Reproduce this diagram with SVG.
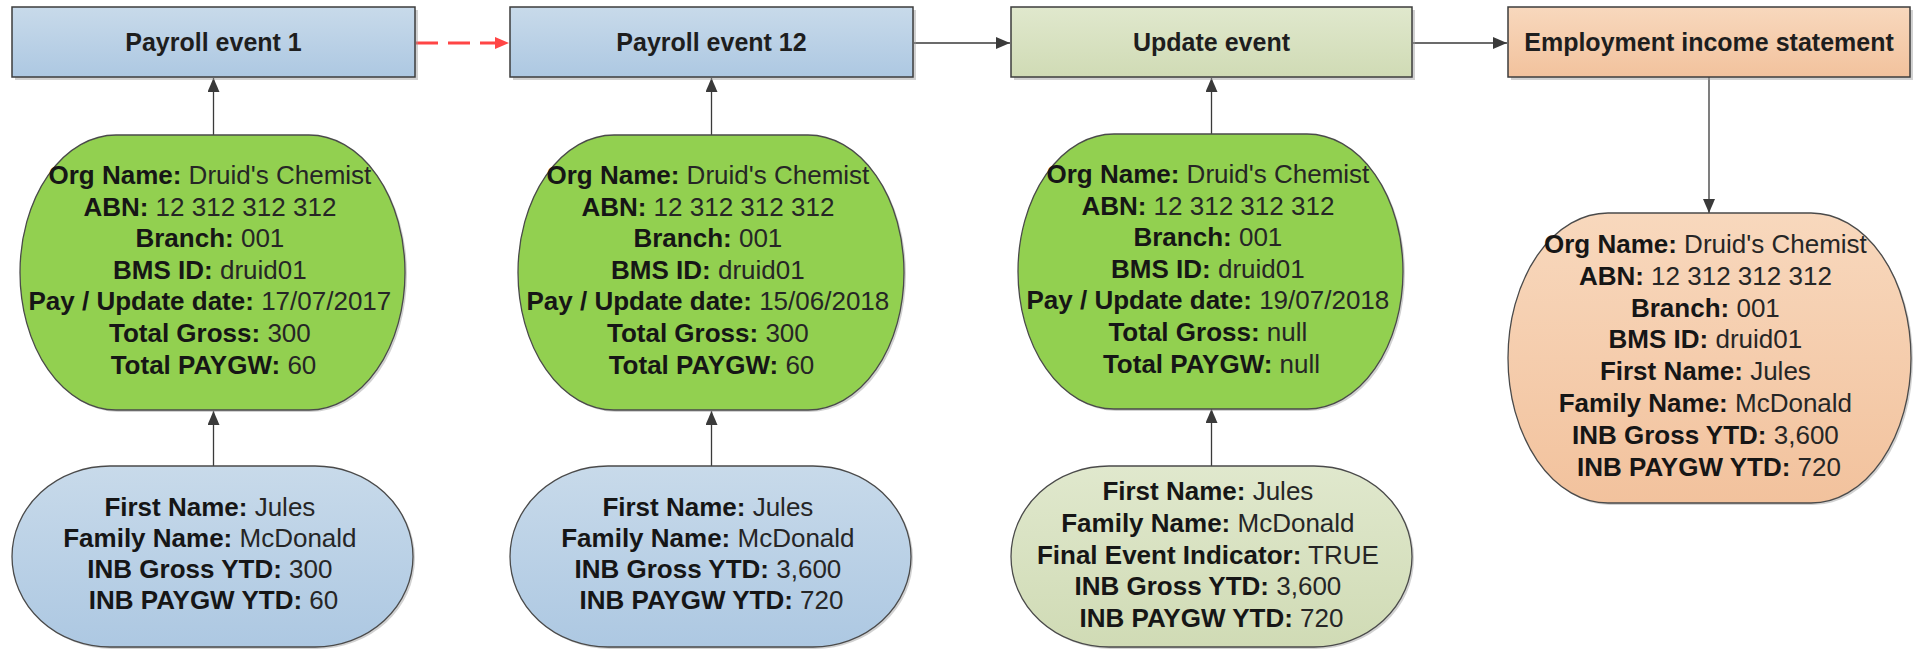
<svg xmlns="http://www.w3.org/2000/svg" width="1914" height="649" viewBox="0 0 1914 649">
  <style>
    .box { stroke: #3c3c3c; stroke-width: 1.5; }
    .shape { stroke: #4a4a4a; stroke-width: 1.3; }
    .shadow { fill: #9a9a9a; opacity: 0.45; }
    .title { font-family: "Liberation Sans", Arial, sans-serif; font-size: 25px; font-weight: bold; fill: #1e1e1e; text-anchor: middle; }
    .body { font-family: "Liberation Sans", Arial, sans-serif; font-size: 26px; fill: #262626; text-anchor: middle; }
    .body .k { font-weight: bold; fill: #161616; }
    .link { fill: none; stroke: #3a3a3a; stroke-width: 1.3; }
    .link-dash { fill: none; stroke: #ff4545; stroke-width: 3; stroke-dasharray: 22 10; }
  </style>
  <defs>
    <linearGradient id="gBlue" x1="0" y1="0" x2="0" y2="1">
      <stop offset="0" stop-color="#c8daea"/>
      <stop offset="1" stop-color="#adc8e2"/>
    </linearGradient>
    <linearGradient id="gKhaki" x1="0" y1="0" x2="0" y2="1">
      <stop offset="0" stop-color="#e0e8cd"/>
      <stop offset="1" stop-color="#d0dbb5"/>
    </linearGradient>
    <linearGradient id="gPeach" x1="0" y1="0" x2="0" y2="1">
      <stop offset="0" stop-color="#f8d8bd"/>
      <stop offset="1" stop-color="#f2c29d"/>
    </linearGradient>
    <marker id="arrow" viewBox="0 0 14 12" refX="14" refY="6" markerWidth="14" markerHeight="12" markerUnits="userSpaceOnUse" orient="auto">
      <path d="M0,0 L14,6 L0,12 Z" fill="#3a3a3a"/>
    </marker>
    <marker id="arrowRed" viewBox="0 0 14 12" refX="14" refY="6" markerWidth="14" markerHeight="12" markerUnits="userSpaceOnUse" orient="auto">
      <path d="M0,0 L14,6 L0,12 Z" fill="#ff4545"/>
    </marker>
  </defs>

  <!-- connectors -->
  <g id="connectors">
    <line class="link-dash" x1="416" y1="43" x2="509" y2="43" marker-end="url(#arrowRed)"/>
    <line class="link" x1="914" y1="43" x2="1010" y2="43" marker-end="url(#arrow)"/>
    <line class="link" x1="1413" y1="43" x2="1507" y2="43" marker-end="url(#arrow)"/>
    <line class="link" x1="213.5" y1="135" x2="213.5" y2="78" marker-end="url(#arrow)"/>
    <line class="link" x1="213.5" y1="466" x2="213.5" y2="411" marker-end="url(#arrow)"/>
    <line class="link" x1="711.5" y1="135" x2="711.5" y2="78" marker-end="url(#arrow)"/>
    <line class="link" x1="711.5" y1="466" x2="711.5" y2="411" marker-end="url(#arrow)"/>
    <line class="link" x1="1211.5" y1="134" x2="1211.5" y2="78" marker-end="url(#arrow)"/>
    <line class="link" x1="1211.5" y1="466" x2="1211.5" y2="409" marker-end="url(#arrow)"/>
    <line class="link" x1="1709" y1="77" x2="1709" y2="213" marker-end="url(#arrow)"/>
  </g>

  <!-- event boxes -->
  <g id="payroll-event-1">
    <rect class="shadow" x="15" y="10" width="403" height="70"/>
    <rect class="box" x="12" y="7" width="403" height="70" fill="url(#gBlue)"/>
    <text class="title" x="213.5" y="51">Payroll event 1</text>
  </g>
  <g id="payroll-event-12">
    <rect class="shadow" x="513" y="10" width="403" height="70"/>
    <rect class="box" x="510" y="7" width="403" height="70" fill="url(#gBlue)"/>
    <text class="title" x="711.5" y="51">Payroll event 12</text>
  </g>
  <g id="update-event">
    <rect class="shadow" x="1014" y="10" width="401" height="70"/>
    <rect class="box" x="1011" y="7" width="401" height="70" fill="url(#gKhaki)"/>
    <text class="title" x="1211.5" y="51">Update event</text>
  </g>
  <g id="employment-income-statement">
    <rect class="shadow" x="1511" y="10" width="402" height="70"/>
    <rect class="box" x="1508" y="7" width="402" height="70" fill="url(#gPeach)"/>
    <text class="title" x="1709" y="51">Employment income statement</text>
  </g>

  <!-- organisation details -->
  <g id="org-1">
    <path class="shadow" d="M118,137 H311 A96 137.5 0 0 1 311,412 H118 A96 137.5 0 0 1 118,137 Z"/>
    <path class="shape" fill="#92d050" d="M116,135 H309 A96 137.5 0 0 1 309,410 H116 A96 137.5 0 0 1 116,135 Z"/>
    <text class="body">
      <tspan x="213.5" y="184"><tspan class="k">Org Name:</tspan> Druid's Chemist</tspan>
      <tspan x="213.5" y="216"><tspan class="k">ABN:</tspan> 12 312 312 312</tspan>
      <tspan x="213.5" y="247"><tspan class="k">Branch:</tspan> 001</tspan>
      <tspan x="213.5" y="279"><tspan class="k">BMS ID:</tspan> druid01</tspan>
      <tspan x="213.5" y="310"><tspan class="k">Pay / Update date:</tspan> 17/07/2017</tspan>
      <tspan x="213.5" y="342"><tspan class="k">Total Gross:</tspan> 300</tspan>
      <tspan x="213.5" y="374"><tspan class="k">Total PAYGW:</tspan> 60</tspan>
    </text>
  </g>
  <g id="org-12">
    <path class="shadow" d="M616,137 H810 A96 137.5 0 0 1 810,412 H616 A96 137.5 0 0 1 616,137 Z"/>
    <path class="shape" fill="#92d050" d="M614,135 H808 A96 137.5 0 0 1 808,410 H614 A96 137.5 0 0 1 614,135 Z"/>
    <text class="body">
      <tspan x="711.5" y="184"><tspan class="k">Org Name:</tspan> Druid's Chemist</tspan>
      <tspan x="711.5" y="216"><tspan class="k">ABN:</tspan> 12 312 312 312</tspan>
      <tspan x="711.5" y="247"><tspan class="k">Branch:</tspan> 001</tspan>
      <tspan x="711.5" y="279"><tspan class="k">BMS ID:</tspan> druid01</tspan>
      <tspan x="711.5" y="310"><tspan class="k">Pay / Update date:</tspan> 15/06/2018</tspan>
      <tspan x="711.5" y="342"><tspan class="k">Total Gross:</tspan> 300</tspan>
      <tspan x="711.5" y="374"><tspan class="k">Total PAYGW:</tspan> 60</tspan>
    </text>
  </g>
  <g id="org-update">
    <path class="shadow" d="M1116,136 H1309 A96 137.5 0 0 1 1309,411 H1116 A96 137.5 0 0 1 1116,136 Z"/>
    <path class="shape" fill="#92d050" d="M1114,134 H1307 A96 137.5 0 0 1 1307,409 H1114 A96 137.5 0 0 1 1114,134 Z"/>
    <text class="body">
      <tspan x="1211.5" y="183"><tspan class="k">Org Name:</tspan> Druid's Chemist</tspan>
      <tspan x="1211.5" y="215"><tspan class="k">ABN:</tspan> 12 312 312 312</tspan>
      <tspan x="1211.5" y="246"><tspan class="k">Branch:</tspan> 001</tspan>
      <tspan x="1211.5" y="278"><tspan class="k">BMS ID:</tspan> druid01</tspan>
      <tspan x="1211.5" y="309"><tspan class="k">Pay / Update date:</tspan> 19/07/2018</tspan>
      <tspan x="1211.5" y="341"><tspan class="k">Total Gross:</tspan> null</tspan>
      <tspan x="1211.5" y="373"><tspan class="k">Total PAYGW:</tspan> null</tspan>
    </text>
  </g>

  <!-- payee details -->
  <g id="payee-1">
    <path class="shadow" d="M112,468 H317 A98 90.5 0 0 1 317,649 H112 A98 90.5 0 0 1 112,468 Z"/>
    <path class="shape" fill="url(#gBlue)" d="M110,466 H315 A98 90.5 0 0 1 315,647 H110 A98 90.5 0 0 1 110,466 Z"/>
    <text class="body">
      <tspan x="213.5" y="516"><tspan class="k">First Name:</tspan> Jules</tspan>
      <tspan x="213.5" y="547"><tspan class="k">Family Name:</tspan> McDonald</tspan>
      <tspan x="213.5" y="578"><tspan class="k">INB Gross YTD:</tspan> 300</tspan>
      <tspan x="213.5" y="609"><tspan class="k">INB PAYGW YTD:</tspan> 60</tspan>
    </text>
  </g>
  <g id="payee-12">
    <path class="shadow" d="M610,468 H815 A98 90.5 0 0 1 815,649 H610 A98 90.5 0 0 1 610,468 Z"/>
    <path class="shape" fill="url(#gBlue)" d="M608,466 H813 A98 90.5 0 0 1 813,647 H608 A98 90.5 0 0 1 608,466 Z"/>
    <text class="body">
      <tspan x="711.5" y="516"><tspan class="k">First Name:</tspan> Jules</tspan>
      <tspan x="711.5" y="547"><tspan class="k">Family Name:</tspan> McDonald</tspan>
      <tspan x="711.5" y="578"><tspan class="k">INB Gross YTD:</tspan> 3,600</tspan>
      <tspan x="711.5" y="609"><tspan class="k">INB PAYGW YTD:</tspan> 720</tspan>
    </text>
  </g>
  <g id="payee-update">
    <path class="shadow" d="M1111,468 H1316 A98 90.5 0 0 1 1316,649 H1111 A98 90.5 0 0 1 1111,468 Z"/>
    <path class="shape" fill="url(#gKhaki)" d="M1109,466 H1314 A98 90.5 0 0 1 1314,647 H1109 A98 90.5 0 0 1 1109,466 Z"/>
    <text class="body">
      <tspan x="1211.5" y="500"><tspan class="k">First Name:</tspan> Jules</tspan>
      <tspan x="1211.5" y="532"><tspan class="k">Family Name:</tspan> McDonald</tspan>
      <tspan x="1211.5" y="564"><tspan class="k">Final Event Indicator:</tspan> TRUE</tspan>
      <tspan x="1211.5" y="595"><tspan class="k">INB Gross YTD:</tspan> 3,600</tspan>
      <tspan x="1211.5" y="627"><tspan class="k">INB PAYGW YTD:</tspan> 720</tspan>
    </text>
  </g>

  <!-- statement details -->
  <g id="statement">
    <path class="shadow" d="M1610,215 H1813 A100 145 0 0 1 1813,505 H1610 A100 145 0 0 1 1610,215 Z"/>
    <path class="shape" fill="url(#gPeach)" d="M1608,213 H1811 A100 145 0 0 1 1811,503 H1608 A100 145 0 0 1 1608,213 Z"/>
    <text class="body">
      <tspan x="1709" y="253"><tspan class="k">Org Name:</tspan> Druid's Chemist</tspan>
      <tspan x="1709" y="285"><tspan class="k">ABN:</tspan> 12 312 312 312</tspan>
      <tspan x="1709" y="317"><tspan class="k">Branch:</tspan> 001</tspan>
      <tspan x="1709" y="348"><tspan class="k">BMS ID:</tspan> druid01</tspan>
      <tspan x="1709" y="380"><tspan class="k">First Name:</tspan> Jules</tspan>
      <tspan x="1709" y="412"><tspan class="k">Family Name:</tspan> McDonald</tspan>
      <tspan x="1709" y="444"><tspan class="k">INB Gross YTD:</tspan> 3,600</tspan>
      <tspan x="1709" y="476"><tspan class="k">INB PAYGW YTD:</tspan> 720</tspan>
    </text>
  </g>
</svg>
